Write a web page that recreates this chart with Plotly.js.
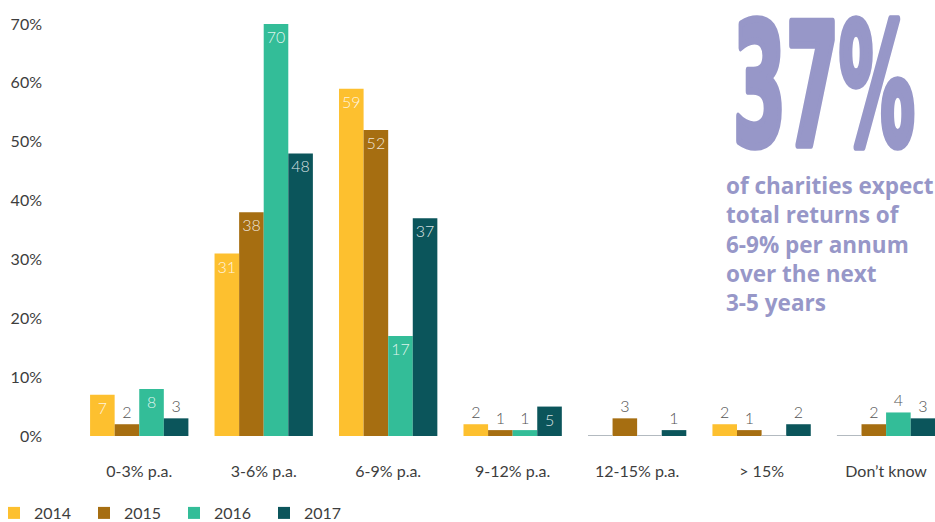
<!DOCTYPE html>
<html>
<head>
<meta charset="utf-8">
<script src="https://cdn.plot.ly/plotly-3.0.1.min.js"></script>
<style>
  html, body { margin: 0; padding: 0; background: #ffffff; }
  #chart { width: 935px; height: 522px; }
</style>
</head>
<body>
<div id="chart"></div>
<script>
// Expected total returns over the next 3-5 years, share of charities (%)
const categories = ['0-3% p.a.', '3-6% p.a.', '6-9% p.a.', '9-12% p.a.', '12-15% p.a.', '> 15%', 'Don\u2019t know'];
const years = ['2014', '2015', '2016', '2017'];
const v2014 = [7, 31, 59, 2, 0, 2, 0];
const v2015 = [2, 38, 52, 1, 3, 1, 2];
const v2016 = [8, 70, 17, 1, 0, 0, 4];
const v2017 = [3, 48, 37, 5, 1, 2, 3];
const yTicks = [0, 10, 20, 30, 40, 50, 60, 70];
const yTickText = yTicks.map(t => t + '%');
const headline = '37%';
const headlineNote = ['of charities expect', 'total returns of', '6-9% per annum', 'over the next', '3-5 years'];

const series = [v2014, v2015, v2016, v2017];
const colors = ['#FDC02F', '#A66E11', '#33BD98', '#0B555B'];
const ACCENT = '#9797C8';
const BARGAP = 0.21;
const FONT = 'Lato, "Open Sans", sans-serif';
const catIdx = categories.map((_, i) => i);

const traces = series.map((vals, j) => ({
  type: 'bar',
  name: years[j],
  x: catIdx,
  y: vals,
  marker: { color: colors[j] },
  text: vals.map(v => (v === 0 ? '' : String(v))),
  textposition: vals.map(v => (v >= 5 ? 'inside' : 'outside')),
  insidetextanchor: 'end',
  textangle: 0,
  constraintext: 'none',
  cliponaxis: false,
  insidetextfont: { family: FONT, size: 16, weight: 300, color: 'rgba(255,255,255,0.85)' },
  outsidetextfont: { family: FONT, size: 16, weight: 300, color: '#555555' },
  hoverinfo: 'skip'
}));

// thin grey baseline in every slot whose value is zero
const slotW = (1 - BARGAP) / series.length;
const zx = [], zy = [];
series.forEach((vals, j) => {
  const off = (j - (series.length - 1) / 2) * slotW;
  vals.forEach((v, i) => {
    if (v === 0) {
      zx.push(i + off - slotW / 2, i + off + slotW / 2, null);
      zy.push(0, 0, null);
    }
  });
});
traces.push({
  type: 'scatter',
  mode: 'lines',
  x: zx,
  y: zy,
  line: { color: '#B3BAC0', width: 2 },
  cliponaxis: false,
  showlegend: false,
  hoverinfo: 'skip'
});

const tickFont = { family: FONT, size: 16, weight: 400, color: '#3d3d3d' };

const layout = {
  width: 935,
  height: 522,
  margin: { l: 77, r: 0, t: 24, b: 86 },
  paper_bgcolor: '#ffffff',
  plot_bgcolor: '#ffffff',
  barmode: 'group',
  bargap: BARGAP,
  bargroupgap: 0,
  font: { family: FONT, size: 16, color: '#3d3d3d' },
  xaxis: {
    range: [-0.5, 6.393],
    tickmode: 'array',
    tickvals: catIdx,
    ticktext: categories,
    showgrid: false, zeroline: false, showline: false, ticks: '',
    ticklabelstandoff: 24,
    tickfont: tickFont,
    fixedrange: true
  },
  yaxis: {
    range: [0, 70],
    tickmode: 'array',
    tickvals: yTicks,
    ticktext: yTickText,
    showgrid: false, zeroline: false, showline: false, ticks: '',
    ticklabelstandoff: 34,
    tickfont: tickFont,
    fixedrange: true
  },
  legend: {
    orientation: 'h',
    xref: 'container', yref: 'container',
    x: 0, y: 0,
    xanchor: 'left', yanchor: 'bottom',
    entrywidth: 45, entrywidthmode: 'pixels',
    font: tickFont,
    traceorder: 'normal'
  },
  annotations: [
    {
      text: headline,
      xref: 'paper', yref: 'paper',
      x: 0.8706, y: 0.85,
      xanchor: 'center', yanchor: 'middle',
      showarrow: false,
      font: { family: '"DejaVu Sans Condensed", "DejaVu Sans", sans-serif', size: 170, weight: 700, color: ACCENT }
    },
    {
      text: headlineNote.join('<br>'),
      xref: 'paper', yref: 'paper',
      x: 0.7545, y: 0.65,
      xanchor: 'left', yanchor: 'top',
      align: 'left',
      showarrow: false,
      font: { family: '"Open Sans", Lato, sans-serif', size: 22.5, weight: 700, color: ACCENT }
    }
  ]
};

Plotly.newPlot('chart', traces, layout, { displayModeBar: false, staticPlot: true }).then(gd => {
  // condense the headline figure horizontally and give it heavier strokes
  gd.querySelectorAll('.annotation-text').forEach(t => {
    if (t.textContent !== headline) return;
    const b = t.getBBox();
    const sx = 182 / b.width;
    const cx = b.x + b.width / 2;
    t.setAttribute('transform', `translate(${cx} 0) scale(${sx} 1) translate(${-cx} 0)`);
    t.style.stroke = ACCENT;
    t.style.strokeWidth = '6px';
    t.style.strokeLinejoin = 'round';
    t.style.vectorEffect = 'non-scaling-stroke';
  });
  // tuck the legend row into the bottom-left corner
  const lg = gd.querySelector('g.legend');
  if (lg) {
    const m = /translate\(([-\d.]+)[ ,]+([-\d.]+)\)/.exec(lg.getAttribute('transform') || '');
    if (m) lg.setAttribute('transform', `translate(${parseFloat(m[1]) - 6},${parseFloat(m[2]) + 8})`);
  }
});
</script>
</body>
</html>
